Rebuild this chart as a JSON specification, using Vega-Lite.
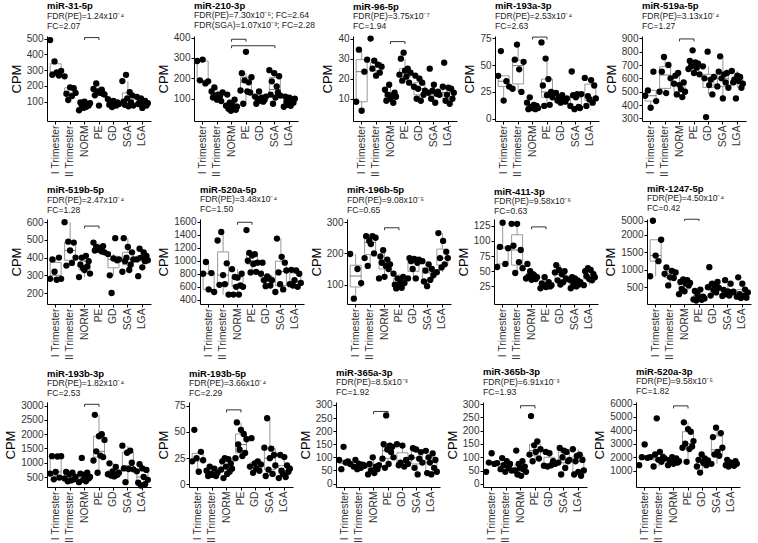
{
"$schema":"https://vega.github.io/schema/vega-lite/v6.json",
"background":"white",
"padding":{"top":0,"left":4,"right":2,"bottom":2},
"datasets":{
"pts":[
{"p":1,"g":"I Trimester","v":490},{"p":1,"g":"I Trimester","v":270},{"p":1,"g":"I Trimester","v":355},{"p":1,"g":"I Trimester","v":285},{"p":1,"g":"I Trimester","v":265},{"p":1,"g":"I Trimester","v":295},
{"p":1,"g":"II Trimester","v":260},{"p":1,"g":"II Trimester","v":150},{"p":1,"g":"II Trimester","v":110},{"p":1,"g":"II Trimester","v":190},{"p":1,"g":"II Trimester","v":135},{"p":1,"g":"II Trimester","v":185},{"p":1,"g":"II Trimester","v":155},
{"p":1,"g":"NORM","v":45},{"p":1,"g":"NORM","v":95},{"p":1,"g":"NORM","v":80},{"p":1,"g":"NORM","v":60},{"p":1,"g":"NORM","v":100},{"p":1,"g":"NORM","v":65},{"p":1,"g":"NORM","v":85},{"p":1,"g":"NORM","v":75},{"p":1,"g":"NORM","v":90},
{"p":1,"g":"PE","v":180},{"p":1,"g":"PE","v":140},{"p":1,"g":"PE","v":215},{"p":1,"g":"PE","v":165},{"p":1,"g":"PE","v":75},{"p":1,"g":"PE","v":155},{"p":1,"g":"PE","v":175},{"p":1,"g":"PE","v":150},{"p":1,"g":"PE","v":145},
{"p":1,"g":"GD","v":115},{"p":1,"g":"GD","v":80},{"p":1,"g":"GD","v":100},{"p":1,"g":"GD","v":65},{"p":1,"g":"GD","v":105},{"p":1,"g":"GD","v":90},{"p":1,"g":"GD","v":75},{"p":1,"g":"GD","v":95},{"p":1,"g":"GD","v":85},
{"p":1,"g":"SGA","v":230},{"p":1,"g":"SGA","v":100},{"p":1,"g":"SGA","v":80},{"p":1,"g":"SGA","v":270},{"p":1,"g":"SGA","v":120},{"p":1,"g":"SGA","v":70},{"p":1,"g":"SGA","v":160},{"p":1,"g":"SGA","v":95},{"p":1,"g":"SGA","v":140},{"p":1,"g":"SGA","v":75},
{"p":1,"g":"LGA","v":130},{"p":1,"g":"LGA","v":85},{"p":1,"g":"LGA","v":95},{"p":1,"g":"LGA","v":120},{"p":1,"g":"LGA","v":60},{"p":1,"g":"LGA","v":90},{"p":1,"g":"LGA","v":105},{"p":1,"g":"LGA","v":75},{"p":1,"g":"LGA","v":90},

{"p":2,"g":"I Trimester","v":285},{"p":2,"g":"I Trimester","v":190},{"p":2,"g":"I Trimester","v":292},{"p":2,"g":"I Trimester","v":175},{"p":2,"g":"I Trimester","v":185},
{"p":2,"g":"II Trimester","v":135},{"p":2,"g":"II Trimester","v":105},{"p":2,"g":"II Trimester","v":155},{"p":2,"g":"II Trimester","v":115},{"p":2,"g":"II Trimester","v":95},{"p":2,"g":"II Trimester","v":120},{"p":2,"g":"II Trimester","v":110},{"p":2,"g":"II Trimester","v":88},{"p":2,"g":"II Trimester","v":130},
{"p":2,"g":"NORM","v":65},{"p":2,"g":"NORM","v":120},{"p":2,"g":"NORM","v":50},{"p":2,"g":"NORM","v":80},{"p":2,"g":"NORM","v":40},{"p":2,"g":"NORM","v":70},{"p":2,"g":"NORM","v":55},{"p":2,"g":"NORM","v":95},{"p":2,"g":"NORM","v":45},{"p":2,"g":"NORM","v":60},
{"p":2,"g":"PE","v":140},{"p":2,"g":"PE","v":225},{"p":2,"g":"PE","v":75},{"p":2,"g":"PE","v":190},{"p":2,"g":"PE","v":330},{"p":2,"g":"PE","v":135},{"p":2,"g":"PE","v":180},{"p":2,"g":"PE","v":130},{"p":2,"g":"PE","v":205},
{"p":2,"g":"GD","v":110},{"p":2,"g":"GD","v":75},{"p":2,"g":"GD","v":100},{"p":2,"g":"GD","v":135},{"p":2,"g":"GD","v":90},{"p":2,"g":"GD","v":105},{"p":2,"g":"GD","v":85},{"p":2,"g":"GD","v":95},{"p":2,"g":"GD","v":110},
{"p":2,"g":"SGA","v":240},{"p":2,"g":"SGA","v":120},{"p":2,"g":"SGA","v":185},{"p":2,"g":"SGA","v":75},{"p":2,"g":"SGA","v":225},{"p":2,"g":"SGA","v":105},{"p":2,"g":"SGA","v":160},{"p":2,"g":"SGA","v":130},{"p":2,"g":"SGA","v":210},{"p":2,"g":"SGA","v":115},
{"p":2,"g":"LGA","v":60},{"p":2,"g":"LGA","v":110},{"p":2,"g":"LGA","v":85},{"p":2,"g":"LGA","v":70},{"p":2,"g":"LGA","v":105},{"p":2,"g":"LGA","v":65},{"p":2,"g":"LGA","v":95},{"p":2,"g":"LGA","v":80},{"p":2,"g":"LGA","v":100},

{"p":3,"g":"I Trimester","v":8.5},{"p":3,"g":"I Trimester","v":34.5},{"p":3,"g":"I Trimester","v":4},{"p":3,"g":"I Trimester","v":23.5},{"p":3,"g":"I Trimester","v":29.5},
{"p":3,"g":"II Trimester","v":40},{"p":3,"g":"II Trimester","v":25},{"p":3,"g":"II Trimester","v":29},{"p":3,"g":"II Trimester","v":21.5},{"p":3,"g":"II Trimester","v":27},{"p":3,"g":"II Trimester","v":23},{"p":3,"g":"II Trimester","v":26},
{"p":3,"g":"NORM","v":14.5},{"p":3,"g":"NORM","v":9},{"p":3,"g":"NORM","v":12},{"p":3,"g":"NORM","v":17},{"p":3,"g":"NORM","v":10},{"p":3,"g":"NORM","v":11.5},{"p":3,"g":"NORM","v":8},{"p":3,"g":"NORM","v":13},{"p":3,"g":"NORM","v":11},
{"p":3,"g":"PE","v":22},{"p":3,"g":"PE","v":30},{"p":3,"g":"PE","v":19},{"p":3,"g":"PE","v":33},{"p":3,"g":"PE","v":24},{"p":3,"g":"PE","v":21},{"p":3,"g":"PE","v":25},{"p":3,"g":"PE","v":18},{"p":3,"g":"PE","v":23},
{"p":3,"g":"GD","v":16},{"p":3,"g":"GD","v":21.5},{"p":3,"g":"GD","v":10},{"p":3,"g":"GD","v":15},{"p":3,"g":"GD","v":20},{"p":3,"g":"GD","v":9},{"p":3,"g":"GD","v":18},{"p":3,"g":"GD","v":12},{"p":3,"g":"GD","v":14},
{"p":3,"g":"SGA","v":13},{"p":3,"g":"SGA","v":25},{"p":3,"g":"SGA","v":10},{"p":3,"g":"SGA","v":14},{"p":3,"g":"SGA","v":17},{"p":3,"g":"SGA","v":8},{"p":3,"g":"SGA","v":12.5},{"p":3,"g":"SGA","v":13.5},{"p":3,"g":"SGA","v":12},
{"p":3,"g":"LGA","v":16},{"p":3,"g":"LGA","v":28},{"p":3,"g":"LGA","v":9},{"p":3,"g":"LGA","v":12},{"p":3,"g":"LGA","v":15.5},{"p":3,"g":"LGA","v":7.5},{"p":3,"g":"LGA","v":15},{"p":3,"g":"LGA","v":10},{"p":3,"g":"LGA","v":13},

{"p":4,"g":"I Trimester","v":40},{"p":4,"g":"I Trimester","v":63},{"p":4,"g":"I Trimester","v":17},{"p":4,"g":"I Trimester","v":35},{"p":4,"g":"I Trimester","v":30},
{"p":4,"g":"II Trimester","v":28},{"p":4,"g":"II Trimester","v":55},{"p":4,"g":"II Trimester","v":69},{"p":4,"g":"II Trimester","v":46},{"p":4,"g":"II Trimester","v":25},{"p":4,"g":"II Trimester","v":53},
{"p":4,"g":"NORM","v":15},{"p":4,"g":"NORM","v":9},{"p":4,"g":"NORM","v":20},{"p":4,"g":"NORM","v":11},{"p":4,"g":"NORM","v":10},{"p":4,"g":"NORM","v":13},{"p":4,"g":"NORM","v":9},{"p":4,"g":"NORM","v":12},{"p":4,"g":"NORM","v":10},
{"p":4,"g":"PE","v":71},{"p":4,"g":"PE","v":31},{"p":4,"g":"PE","v":12},{"p":4,"g":"PE","v":56},{"p":4,"g":"PE","v":22},{"p":4,"g":"PE","v":37},{"p":4,"g":"PE","v":13},{"p":4,"g":"PE","v":25},{"p":4,"g":"PE","v":20},
{"p":4,"g":"GD","v":24},{"p":4,"g":"GD","v":17},{"p":4,"g":"GD","v":20},{"p":4,"g":"GD","v":15},{"p":4,"g":"GD","v":22},{"p":4,"g":"GD","v":18},{"p":4,"g":"GD","v":16},{"p":4,"g":"GD","v":19},
{"p":4,"g":"SGA","v":12},{"p":4,"g":"SGA","v":44},{"p":4,"g":"SGA","v":22},{"p":4,"g":"SGA","v":9},{"p":4,"g":"SGA","v":20},{"p":4,"g":"SGA","v":23},{"p":4,"g":"SGA","v":11},{"p":4,"g":"SGA","v":10},{"p":4,"g":"SGA","v":23},
{"p":4,"g":"LGA","v":38},{"p":4,"g":"LGA","v":12},{"p":4,"g":"LGA","v":21},{"p":4,"g":"LGA","v":18},{"p":4,"g":"LGA","v":36},{"p":4,"g":"LGA","v":15},{"p":4,"g":"LGA","v":31},{"p":4,"g":"LGA","v":19},

{"p":5,"g":"I Trimester","v":470},{"p":5,"g":"I Trimester","v":510},{"p":5,"g":"I Trimester","v":380},{"p":5,"g":"I Trimester","v":650},{"p":5,"g":"I Trimester","v":430},
{"p":5,"g":"II Trimester","v":500},{"p":5,"g":"II Trimester","v":650},{"p":5,"g":"II Trimester","v":760},{"p":5,"g":"II Trimester","v":490},{"p":5,"g":"II Trimester","v":700},{"p":5,"g":"II Trimester","v":600},
{"p":5,"g":"NORM","v":560},{"p":5,"g":"NORM","v":620},{"p":5,"g":"NORM","v":480},{"p":5,"g":"NORM","v":640},{"p":5,"g":"NORM","v":550},{"p":5,"g":"NORM","v":520},{"p":5,"g":"NORM","v":460},{"p":5,"g":"NORM","v":570},{"p":5,"g":"NORM","v":500},
{"p":5,"g":"PE","v":670},{"p":5,"g":"PE","v":730},{"p":5,"g":"PE","v":690},{"p":5,"g":"PE","v":810},{"p":5,"g":"PE","v":640},{"p":5,"g":"PE","v":720},{"p":5,"g":"PE","v":680},{"p":5,"g":"PE","v":710},{"p":5,"g":"PE","v":630},
{"p":5,"g":"GD","v":690},{"p":5,"g":"GD","v":600},{"p":5,"g":"GD","v":310},{"p":5,"g":"GD","v":800},{"p":5,"g":"GD","v":550},{"p":5,"g":"GD","v":590},{"p":5,"g":"GD","v":480},{"p":5,"g":"GD","v":610},
{"p":5,"g":"SGA","v":540},{"p":5,"g":"SGA","v":650},{"p":5,"g":"SGA","v":765},{"p":5,"g":"SGA","v":600},{"p":5,"g":"SGA","v":450},{"p":5,"g":"SGA","v":630},{"p":5,"g":"SGA","v":570},{"p":5,"g":"SGA","v":640},{"p":5,"g":"SGA","v":530},
{"p":5,"g":"LGA","v":655},{"p":5,"g":"LGA","v":570},{"p":5,"g":"LGA","v":590},{"p":5,"g":"LGA","v":450},{"p":5,"g":"LGA","v":620},{"p":5,"g":"LGA","v":580},{"p":5,"g":"LGA","v":610},{"p":5,"g":"LGA","v":530},{"p":5,"g":"LGA","v":560},

{"p":6,"g":"I Trimester","v":280},{"p":6,"g":"I Trimester","v":390},{"p":6,"g":"I Trimester","v":320},{"p":6,"g":"I Trimester","v":275},{"p":6,"g":"I Trimester","v":400},{"p":6,"g":"I Trimester","v":280},
{"p":6,"g":"II Trimester","v":600},{"p":6,"g":"II Trimester","v":355},{"p":6,"g":"II Trimester","v":490},{"p":6,"g":"II Trimester","v":440},{"p":6,"g":"II Trimester","v":370},{"p":6,"g":"II Trimester","v":485},{"p":6,"g":"II Trimester","v":400},
{"p":6,"g":"NORM","v":290},{"p":6,"g":"NORM","v":360},{"p":6,"g":"NORM","v":400},{"p":6,"g":"NORM","v":340},{"p":6,"g":"NORM","v":330},{"p":6,"g":"NORM","v":410},{"p":6,"g":"NORM","v":350},{"p":6,"g":"NORM","v":380},{"p":6,"g":"NORM","v":310},
{"p":6,"g":"PE","v":485},{"p":6,"g":"PE","v":440},{"p":6,"g":"PE","v":460},{"p":6,"g":"PE","v":445},{"p":6,"g":"PE","v":455},{"p":6,"g":"PE","v":450},{"p":6,"g":"PE","v":435},{"p":6,"g":"PE","v":465},{"p":6,"g":"PE","v":430},
{"p":6,"g":"GD","v":420},{"p":6,"g":"GD","v":300},{"p":6,"g":"GD","v":200},{"p":6,"g":"GD","v":395},{"p":6,"g":"GD","v":510},{"p":6,"g":"GD","v":385},{"p":6,"g":"GD","v":390},
{"p":6,"g":"SGA","v":320},{"p":6,"g":"SGA","v":510},{"p":6,"g":"SGA","v":380},{"p":6,"g":"SGA","v":400},{"p":6,"g":"SGA","v":460},{"p":6,"g":"SGA","v":330},{"p":6,"g":"SGA","v":360},{"p":6,"g":"SGA","v":430},{"p":6,"g":"SGA","v":390},
{"p":6,"g":"LGA","v":390},{"p":6,"g":"LGA","v":295},{"p":6,"g":"LGA","v":450},{"p":6,"g":"LGA","v":400},{"p":6,"g":"LGA","v":345},{"p":6,"g":"LGA","v":430},{"p":6,"g":"LGA","v":380},{"p":6,"g":"LGA","v":410},{"p":6,"g":"LGA","v":385},

{"p":7,"g":"I Trimester","v":800},{"p":7,"g":"I Trimester","v":980},{"p":7,"g":"I Trimester","v":560},{"p":7,"g":"I Trimester","v":810},{"p":7,"g":"I Trimester","v":520},
{"p":7,"g":"II Trimester","v":1310},{"p":7,"g":"II Trimester","v":630},{"p":7,"g":"II Trimester","v":1440},{"p":7,"g":"II Trimester","v":780},{"p":7,"g":"II Trimester","v":640},{"p":7,"g":"II Trimester","v":960},{"p":7,"g":"II Trimester","v":480},
{"p":7,"g":"NORM","v":870},{"p":7,"g":"NORM","v":480},{"p":7,"g":"NORM","v":750},{"p":7,"g":"NORM","v":600},{"p":7,"g":"NORM","v":740},{"p":7,"g":"NORM","v":480},{"p":7,"g":"NORM","v":620},{"p":7,"g":"NORM","v":800},{"p":7,"g":"NORM","v":600},
{"p":7,"g":"PE","v":1470},{"p":7,"g":"PE","v":1000},{"p":7,"g":"PE","v":1120},{"p":7,"g":"PE","v":820},{"p":7,"g":"PE","v":1080},{"p":7,"g":"PE","v":950},{"p":7,"g":"PE","v":1100},{"p":7,"g":"PE","v":830},{"p":7,"g":"PE","v":970},
{"p":7,"g":"GD","v":800},{"p":7,"g":"GD","v":970},{"p":7,"g":"GD","v":700},{"p":7,"g":"GD","v":610},{"p":7,"g":"GD","v":760},{"p":7,"g":"GD","v":730},{"p":7,"g":"GD","v":620},{"p":7,"g":"GD","v":700},
{"p":7,"g":"SGA","v":520},{"p":7,"g":"SGA","v":1340},{"p":7,"g":"SGA","v":820},{"p":7,"g":"SGA","v":640},{"p":7,"g":"SGA","v":1060},{"p":7,"g":"SGA","v":560},{"p":7,"g":"SGA","v":970},{"p":7,"g":"SGA","v":850},
{"p":7,"g":"LGA","v":640},{"p":7,"g":"LGA","v":860},{"p":7,"g":"LGA","v":620},{"p":7,"g":"LGA","v":700},{"p":7,"g":"LGA","v":850},{"p":7,"g":"LGA","v":600},{"p":7,"g":"LGA","v":800},{"p":7,"g":"LGA","v":660},

{"p":8,"g":"I Trimester","v":198},{"p":8,"g":"I Trimester","v":55},{"p":8,"g":"I Trimester","v":150},{"p":8,"g":"I Trimester","v":105},
{"p":8,"g":"II Trimester","v":185},{"p":8,"g":"II Trimester","v":255},{"p":8,"g":"II Trimester","v":160},{"p":8,"g":"II Trimester","v":240},{"p":8,"g":"II Trimester","v":230},{"p":8,"g":"II Trimester","v":255},{"p":8,"g":"II Trimester","v":200},{"p":8,"g":"II Trimester","v":250},
{"p":8,"g":"NORM","v":120},{"p":8,"g":"NORM","v":190},{"p":8,"g":"NORM","v":170},{"p":8,"g":"NORM","v":210},{"p":8,"g":"NORM","v":125},{"p":8,"g":"NORM","v":160},{"p":8,"g":"NORM","v":180},{"p":8,"g":"NORM","v":150},{"p":8,"g":"NORM","v":165},
{"p":8,"g":"PE","v":135},{"p":8,"g":"PE","v":100},{"p":8,"g":"PE","v":88},{"p":8,"g":"PE","v":120},{"p":8,"g":"PE","v":95},{"p":8,"g":"PE","v":110},{"p":8,"g":"PE","v":90},{"p":8,"g":"PE","v":125},{"p":8,"g":"PE","v":105},
{"p":8,"g":"GD","v":120},{"p":8,"g":"GD","v":185},{"p":8,"g":"GD","v":175},{"p":8,"g":"GD","v":150},{"p":8,"g":"GD","v":182},{"p":8,"g":"GD","v":120},{"p":8,"g":"GD","v":170},{"p":8,"g":"GD","v":180},
{"p":8,"g":"SGA","v":175},{"p":8,"g":"SGA","v":110},{"p":8,"g":"SGA","v":145},{"p":8,"g":"SGA","v":95},{"p":8,"g":"SGA","v":165},{"p":8,"g":"SGA","v":115},{"p":8,"g":"SGA","v":150},{"p":8,"g":"SGA","v":130},
{"p":8,"g":"LGA","v":140},{"p":8,"g":"LGA","v":265},{"p":8,"g":"LGA","v":185},{"p":8,"g":"LGA","v":155},{"p":8,"g":"LGA","v":240},{"p":8,"g":"LGA","v":165},{"p":8,"g":"LGA","v":205},{"p":8,"g":"LGA","v":185},

{"p":9,"g":"I Trimester","v":57},{"p":9,"g":"I Trimester","v":90},{"p":9,"g":"I Trimester","v":130},{"p":9,"g":"I Trimester","v":62},{"p":9,"g":"I Trimester","v":88},
{"p":9,"g":"II Trimester","v":128},{"p":9,"g":"II Trimester","v":92},{"p":9,"g":"II Trimester","v":47},{"p":9,"g":"II Trimester","v":128},{"p":9,"g":"II Trimester","v":65},{"p":9,"g":"II Trimester","v":85},{"p":9,"g":"II Trimester","v":55},
{"p":9,"g":"NORM","v":38},{"p":9,"g":"NORM","v":62},{"p":9,"g":"NORM","v":42},{"p":9,"g":"NORM","v":50},{"p":9,"g":"NORM","v":36},{"p":9,"g":"NORM","v":45},{"p":9,"g":"NORM","v":43},{"p":9,"g":"NORM","v":37},{"p":9,"g":"NORM","v":40},
{"p":9,"g":"PE","v":22},{"p":9,"g":"PE","v":30},{"p":9,"g":"PE","v":26},{"p":9,"g":"PE","v":40},{"p":9,"g":"PE","v":24},{"p":9,"g":"PE","v":28},{"p":9,"g":"PE","v":32},{"p":9,"g":"PE","v":25},{"p":9,"g":"PE","v":27},
{"p":9,"g":"GD","v":48},{"p":9,"g":"GD","v":60},{"p":9,"g":"GD","v":35},{"p":9,"g":"GD","v":52},{"p":9,"g":"GD","v":28},{"p":9,"g":"GD","v":45},{"p":9,"g":"GD","v":32},{"p":9,"g":"GD","v":50},{"p":9,"g":"GD","v":38},
{"p":9,"g":"SGA","v":36},{"p":9,"g":"SGA","v":22},{"p":9,"g":"SGA","v":40},{"p":9,"g":"SGA","v":30},{"p":9,"g":"SGA","v":38},{"p":9,"g":"SGA","v":25},{"p":9,"g":"SGA","v":35},{"p":9,"g":"SGA","v":28},{"p":9,"g":"SGA","v":32},
{"p":9,"g":"LGA","v":27},{"p":9,"g":"LGA","v":50},{"p":9,"g":"LGA","v":42},{"p":9,"g":"LGA","v":55},{"p":9,"g":"LGA","v":37},{"p":9,"g":"LGA","v":52},{"p":9,"g":"LGA","v":35},{"p":9,"g":"LGA","v":45},{"p":9,"g":"LGA","v":40},

{"p":10,"g":"I Trimester","v":810},{"p":10,"g":"I Trimester","v":5000},{"p":10,"g":"I Trimester","v":1400},{"p":10,"g":"I Trimester","v":1240},{"p":10,"g":"I Trimester","v":1850},
{"p":10,"g":"II Trimester","v":880},{"p":10,"g":"II Trimester","v":1060},{"p":10,"g":"II Trimester","v":550},{"p":10,"g":"II Trimester","v":780},{"p":10,"g":"II Trimester","v":960},{"p":10,"g":"II Trimester","v":760},{"p":10,"g":"II Trimester","v":920},
{"p":10,"g":"NORM","v":300},{"p":10,"g":"NORM","v":650},{"p":10,"g":"NORM","v":450},{"p":10,"g":"NORM","v":720},{"p":10,"g":"NORM","v":380},{"p":10,"g":"NORM","v":600},{"p":10,"g":"NORM","v":700},{"p":10,"g":"NORM","v":550},{"p":10,"g":"NORM","v":620},
{"p":10,"g":"PE","v":150},{"p":10,"g":"PE","v":390},{"p":10,"g":"PE","v":120},{"p":10,"g":"PE","v":280},{"p":10,"g":"PE","v":200},{"p":10,"g":"PE","v":430},{"p":10,"g":"PE","v":140},{"p":10,"g":"PE","v":230},{"p":10,"g":"PE","v":180},
{"p":10,"g":"GD","v":500},{"p":10,"g":"GD","v":1070},{"p":10,"g":"GD","v":260},{"p":10,"g":"GD","v":600},{"p":10,"g":"GD","v":420},{"p":10,"g":"GD","v":550},{"p":10,"g":"GD","v":350},{"p":10,"g":"GD","v":650},{"p":10,"g":"GD","v":480},
{"p":10,"g":"SGA","v":250},{"p":10,"g":"SGA","v":420},{"p":10,"g":"SGA","v":700},{"p":10,"g":"SGA","v":300},{"p":10,"g":"SGA","v":380},{"p":10,"g":"SGA","v":260},{"p":10,"g":"SGA","v":600},{"p":10,"g":"SGA","v":350},{"p":10,"g":"SGA","v":370},
{"p":10,"g":"LGA","v":230},{"p":10,"g":"LGA","v":780},{"p":10,"g":"LGA","v":300},{"p":10,"g":"LGA","v":190},{"p":10,"g":"LGA","v":600},{"p":10,"g":"LGA","v":250},{"p":10,"g":"LGA","v":430},{"p":10,"g":"LGA","v":200},{"p":10,"g":"LGA","v":350},

{"p":11,"g":"I Trimester","v":620},{"p":11,"g":"I Trimester","v":1230},{"p":11,"g":"I Trimester","v":420},{"p":11,"g":"I Trimester","v":680},{"p":11,"g":"I Trimester","v":1220},{"p":11,"g":"I Trimester","v":480},{"p":11,"g":"I Trimester","v":1230},
{"p":11,"g":"II Trimester","v":450},{"p":11,"g":"II Trimester","v":680},{"p":11,"g":"II Trimester","v":350},{"p":11,"g":"II Trimester","v":600},{"p":11,"g":"II Trimester","v":380},{"p":11,"g":"II Trimester","v":650},{"p":11,"g":"II Trimester","v":420},{"p":11,"g":"II Trimester","v":500},
{"p":11,"g":"NORM","v":320},{"p":11,"g":"NORM","v":620},{"p":11,"g":"NORM","v":1170},{"p":11,"g":"NORM","v":400},{"p":11,"g":"NORM","v":580},{"p":11,"g":"NORM","v":350},{"p":11,"g":"NORM","v":650},{"p":11,"g":"NORM","v":450},{"p":11,"g":"NORM","v":500},
{"p":11,"g":"PE","v":1080},{"p":11,"g":"PE","v":2680},{"p":11,"g":"PE","v":1400},{"p":11,"g":"PE","v":650},{"p":11,"g":"PE","v":1930},{"p":11,"g":"PE","v":1250},{"p":11,"g":"PE","v":2000},{"p":11,"g":"PE","v":1200},{"p":11,"g":"PE","v":1800},
{"p":11,"g":"GD","v":600},{"p":11,"g":"GD","v":980},{"p":11,"g":"GD","v":550},{"p":11,"g":"GD","v":700},{"p":11,"g":"GD","v":520},{"p":11,"g":"GD","v":850},{"p":11,"g":"GD","v":580},{"p":11,"g":"GD","v":650},
{"p":11,"g":"SGA","v":1600},{"p":11,"g":"SGA","v":800},{"p":11,"g":"SGA","v":320},{"p":11,"g":"SGA","v":1350},{"p":11,"g":"SGA","v":780},{"p":11,"g":"SGA","v":1420},{"p":11,"g":"SGA","v":1000},{"p":11,"g":"SGA","v":770},
{"p":11,"g":"LGA","v":700},{"p":11,"g":"LGA","v":300},{"p":11,"g":"LGA","v":950},{"p":11,"g":"LGA","v":200},{"p":11,"g":"LGA","v":800},{"p":11,"g":"LGA","v":500},{"p":11,"g":"LGA","v":250},{"p":11,"g":"LGA","v":750},{"p":11,"g":"LGA","v":400},

{"p":12,"g":"I Trimester","v":22},{"p":12,"g":"I Trimester","v":52},{"p":12,"g":"I Trimester","v":25},{"p":12,"g":"I Trimester","v":12},{"p":12,"g":"I Trimester","v":31},{"p":12,"g":"I Trimester","v":23},
{"p":12,"g":"II Trimester","v":13},{"p":12,"g":"II Trimester","v":8},{"p":12,"g":"II Trimester","v":17},{"p":12,"g":"II Trimester","v":10},{"p":12,"g":"II Trimester","v":9},{"p":12,"g":"II Trimester","v":15},{"p":12,"g":"II Trimester","v":8},{"p":12,"g":"II Trimester","v":11},
{"p":12,"g":"NORM","v":14},{"p":12,"g":"NORM","v":22},{"p":12,"g":"NORM","v":6},{"p":12,"g":"NORM","v":25},{"p":12,"g":"NORM","v":17},{"p":12,"g":"NORM","v":10},{"p":12,"g":"NORM","v":24},{"p":12,"g":"NORM","v":12},{"p":12,"g":"NORM","v":20},{"p":12,"g":"NORM","v":15},
{"p":12,"g":"PE","v":25},{"p":12,"g":"PE","v":59},{"p":12,"g":"PE","v":38},{"p":12,"g":"PE","v":33},{"p":12,"g":"PE","v":52},{"p":12,"g":"PE","v":27},{"p":12,"g":"PE","v":48},{"p":12,"g":"PE","v":30},{"p":12,"g":"PE","v":43},
{"p":12,"g":"GD","v":17},{"p":12,"g":"GD","v":44},{"p":12,"g":"GD","v":11},{"p":12,"g":"GD","v":20},{"p":12,"g":"GD","v":15},{"p":12,"g":"GD","v":22},{"p":12,"g":"GD","v":13},{"p":12,"g":"GD","v":19},
{"p":12,"g":"SGA","v":35},{"p":12,"g":"SGA","v":8},{"p":12,"g":"SGA","v":63},{"p":12,"g":"SGA","v":14},{"p":12,"g":"SGA","v":25},{"p":12,"g":"SGA","v":34},{"p":12,"g":"SGA","v":10},{"p":12,"g":"SGA","v":28},{"p":12,"g":"SGA","v":18},
{"p":12,"g":"LGA","v":6},{"p":12,"g":"LGA","v":28},{"p":12,"g":"LGA","v":13},{"p":12,"g":"LGA","v":10},{"p":12,"g":"LGA","v":26},{"p":12,"g":"LGA","v":7},{"p":12,"g":"LGA","v":18},{"p":12,"g":"LGA","v":12},{"p":12,"g":"LGA","v":15},

{"p":13,"g":"I Trimester","v":90},{"p":13,"g":"I Trimester","v":55},{"p":13,"g":"I Trimester","v":140},{"p":13,"g":"I Trimester","v":80},{"p":13,"g":"I Trimester","v":85},{"p":13,"g":"I Trimester","v":75},
{"p":13,"g":"II Trimester","v":65},{"p":13,"g":"II Trimester","v":90},{"p":13,"g":"II Trimester","v":55},{"p":13,"g":"II Trimester","v":75},{"p":13,"g":"II Trimester","v":60},{"p":13,"g":"II Trimester","v":72},{"p":13,"g":"II Trimester","v":68},
{"p":13,"g":"NORM","v":35},{"p":13,"g":"NORM","v":75},{"p":13,"g":"NORM","v":50},{"p":13,"g":"NORM","v":100},{"p":13,"g":"NORM","v":40},{"p":13,"g":"NORM","v":65},{"p":13,"g":"NORM","v":55},{"p":13,"g":"NORM","v":70},
{"p":13,"g":"PE","v":95},{"p":13,"g":"PE","v":150},{"p":13,"g":"PE","v":60},{"p":13,"g":"PE","v":260},{"p":13,"g":"PE","v":130},{"p":13,"g":"PE","v":75},{"p":13,"g":"PE","v":145},{"p":13,"g":"PE","v":120},{"p":13,"g":"PE","v":140},{"p":13,"g":"PE","v":100},
{"p":13,"g":"GD","v":150},{"p":13,"g":"GD","v":70},{"p":13,"g":"GD","v":80},{"p":13,"g":"GD","v":145},{"p":13,"g":"GD","v":65},{"p":13,"g":"GD","v":90},{"p":13,"g":"GD","v":75},
{"p":13,"g":"SGA","v":100},{"p":13,"g":"SGA","v":135},{"p":13,"g":"SGA","v":60},{"p":13,"g":"SGA","v":130},{"p":13,"g":"SGA","v":35},{"p":13,"g":"SGA","v":95},{"p":13,"g":"SGA","v":120},{"p":13,"g":"SGA","v":80},
{"p":13,"g":"LGA","v":125},{"p":13,"g":"LGA","v":40},{"p":13,"g":"LGA","v":100},{"p":13,"g":"LGA","v":80},{"p":13,"g":"LGA","v":35},{"p":13,"g":"LGA","v":115},{"p":13,"g":"LGA","v":60},{"p":13,"g":"LGA","v":90},{"p":13,"g":"LGA","v":45},

{"p":14,"g":"I Trimester","v":45},{"p":14,"g":"I Trimester","v":80},{"p":14,"g":"I Trimester","v":115},{"p":14,"g":"I Trimester","v":75},{"p":14,"g":"I Trimester","v":78},
{"p":14,"g":"II Trimester","v":55},{"p":14,"g":"II Trimester","v":97},{"p":14,"g":"II Trimester","v":70},{"p":14,"g":"II Trimester","v":45},{"p":14,"g":"II Trimester","v":85},{"p":14,"g":"II Trimester","v":60},{"p":14,"g":"II Trimester","v":75},{"p":14,"g":"II Trimester","v":50},
{"p":14,"g":"NORM","v":50},{"p":14,"g":"NORM","v":125},{"p":14,"g":"NORM","v":35},{"p":14,"g":"NORM","v":75},{"p":14,"g":"NORM","v":60},{"p":14,"g":"NORM","v":30},{"p":14,"g":"NORM","v":85},{"p":14,"g":"NORM","v":55},{"p":14,"g":"NORM","v":65},{"p":14,"g":"NORM","v":45},
{"p":14,"g":"PE","v":110},{"p":14,"g":"PE","v":255},{"p":14,"g":"PE","v":85},{"p":14,"g":"PE","v":145},{"p":14,"g":"PE","v":120},{"p":14,"g":"PE","v":160},{"p":14,"g":"PE","v":95},{"p":14,"g":"PE","v":130},
{"p":14,"g":"GD","v":68},{"p":14,"g":"GD","v":120},{"p":14,"g":"GD","v":65},{"p":14,"g":"GD","v":115},{"p":14,"g":"GD","v":70},{"p":14,"g":"GD","v":85},{"p":14,"g":"GD","v":75},
{"p":14,"g":"SGA","v":80},{"p":14,"g":"SGA","v":135},{"p":14,"g":"SGA","v":35},{"p":14,"g":"SGA","v":100},{"p":14,"g":"SGA","v":125},{"p":14,"g":"SGA","v":60},{"p":14,"g":"SGA","v":120},{"p":14,"g":"SGA","v":85},{"p":14,"g":"SGA","v":90},
{"p":14,"g":"LGA","v":130},{"p":14,"g":"LGA","v":35},{"p":14,"g":"LGA","v":85},{"p":14,"g":"LGA","v":105},{"p":14,"g":"LGA","v":45},{"p":14,"g":"LGA","v":110},{"p":14,"g":"LGA","v":30},{"p":14,"g":"LGA","v":90},{"p":14,"g":"LGA","v":50},

{"p":15,"g":"I Trimester","v":1400},{"p":15,"g":"I Trimester","v":2000},{"p":15,"g":"I Trimester","v":2950},{"p":15,"g":"I Trimester","v":1950},{"p":15,"g":"I Trimester","v":2000},
{"p":15,"g":"II Trimester","v":1300},{"p":15,"g":"II Trimester","v":2200},{"p":15,"g":"II Trimester","v":4900},{"p":15,"g":"II Trimester","v":1800},{"p":15,"g":"II Trimester","v":2400},{"p":15,"g":"II Trimester","v":1650},{"p":15,"g":"II Trimester","v":2000},{"p":15,"g":"II Trimester","v":1900},
{"p":15,"g":"NORM","v":1400},{"p":15,"g":"NORM","v":1800},{"p":15,"g":"NORM","v":1650},{"p":15,"g":"NORM","v":2000},{"p":15,"g":"NORM","v":1500},{"p":15,"g":"NORM","v":1750},{"p":15,"g":"NORM","v":1900},{"p":15,"g":"NORM","v":1600},{"p":15,"g":"NORM","v":1700},
{"p":15,"g":"PE","v":2700},{"p":15,"g":"PE","v":4600},{"p":15,"g":"PE","v":3000},{"p":15,"g":"PE","v":1650},{"p":15,"g":"PE","v":4100},{"p":15,"g":"PE","v":2600},{"p":15,"g":"PE","v":3900},{"p":15,"g":"PE","v":2800},{"p":15,"g":"PE","v":3200},
{"p":15,"g":"GD","v":1300},{"p":15,"g":"GD","v":1800},{"p":15,"g":"GD","v":850},{"p":15,"g":"GD","v":2200},{"p":15,"g":"GD","v":1600},{"p":15,"g":"GD","v":1900},{"p":15,"g":"GD","v":1400},{"p":15,"g":"GD","v":1750},
{"p":15,"g":"SGA","v":1500},{"p":15,"g":"SGA","v":3500},{"p":15,"g":"SGA","v":2200},{"p":15,"g":"SGA","v":4200},{"p":15,"g":"SGA","v":2400},{"p":15,"g":"SGA","v":2100},{"p":15,"g":"SGA","v":3800},{"p":15,"g":"SGA","v":2700},
{"p":15,"g":"LGA","v":1400},{"p":15,"g":"LGA","v":1800},{"p":15,"g":"LGA","v":1300},{"p":15,"g":"LGA","v":1600},{"p":15,"g":"LGA","v":1450},{"p":15,"g":"LGA","v":1550},{"p":15,"g":"LGA","v":1350},{"p":15,"g":"LGA","v":1700},{"p":15,"g":"LGA","v":1500}
],
"br":[
{"p":1,"a":"NORM","b":"PE","y":506,"y0":490},
{"p":2,"a":"NORM","b":"PE","y":392,"y0":380},
{"p":2,"a":"NORM","b":"SGA","y":360,"y0":348},
{"p":3,"a":"NORM","b":"PE","y":38.5,"y0":37.3},
{"p":4,"a":"NORM","b":"PE","y":76,"y0":73.7},
{"p":5,"a":"NORM","b":"PE","y":895,"y0":876},
{"p":6,"a":"NORM","b":"PE","y":578,"y0":564},
{"p":7,"a":"NORM","b":"PE","y":1590,"y0":1552},
{"p":8,"a":"NORM","b":"PE","y":282,"y0":274},
{"p":9,"a":"NORM","b":"PE","y":123,"y0":119},
{"p":10,"a":"NORM","b":"PE","y":5170,"y0":4960},
{"p":11,"a":"NORM","b":"PE","y":3050,"y0":2960},
{"p":12,"a":"NORM","b":"PE","y":71,"y0":68.5},
{"p":13,"a":"NORM","b":"PE","y":275,"y0":265},
{"p":14,"a":"NORM","b":"PE","y":294,"y0":284},
{"p":15,"a":"NORM","b":"PE","y":5830,"y0":5640}
]
},
"data":{"name":"pts"},
"vconcat":[
{"hconcat":[
{"title":{"text":"miR-31-5p","subtitle":["FDR(PE)=1.24x10⁻⁴","FC=2.07"]},"width":104,"height":85,"layer":[
{"transform":[{"filter":"datum.p==1"}],"mark":{"type":"boxplot","extent":1.5,"size":11,"outliers":false,"color":"white","box":{"stroke":"#999999","strokeWidth":1},"median":{"color":"#444444"},"rule":{"color":"#999999"}},"encoding":{"x":{"field":"g","type":"nominal","scale":{"domain":["I Trimester","II Trimester","NORM","PE","GD","SGA","LGA"],"paddingInner":0,"paddingOuter":0.1},"axis":{"title":null}},"y":{"field":"v","type":"quantitative","title":"CPM","scale":{"domain":[-23,516],"nice":false,"zero":false},"axis":{"values":[100,200,300,400,500],"tickCount":20,"format":"d","labelOverlap":false}}}},
{"transform":[{"filter":"datum.p==1"},{"window":[{"op":"row_number","as":"i"}],"groupby":["g"]},{"window":[{"op":"percent_rank","as":"r"}],"sort":[{"field":"i"}],"groupby":["g"]}],"mark":{"type":"point","filled":true,"color":"black","size":40,"opacity":1},"encoding":{"x":{"field":"g","type":"nominal"},"xOffset":{"field":"r","type":"quantitative","scale":{"domain":[0,1],"range":[1.7,12.7]}},"y":{"field":"v","type":"quantitative"}}},
{"data":{"name":"br"},"transform":[{"filter":"datum.p==1"}],"mark":{"type":"rule","color":"#333333"},"encoding":{"x":{"field":"a","type":"nominal"},"x2":{"field":"b"},"y":{"field":"y","type":"quantitative"}}},
{"data":{"name":"br"},"transform":[{"filter":"datum.p==1"}],"mark":{"type":"rule","color":"#333333"},"encoding":{"x":{"field":"a","type":"nominal"},"y":{"field":"y","type":"quantitative"},"y2":{"field":"y0"}}},
{"data":{"name":"br"},"transform":[{"filter":"datum.p==1"}],"mark":{"type":"rule","color":"#333333"},"encoding":{"x":{"field":"b","type":"nominal"},"y":{"field":"y","type":"quantitative"},"y2":{"field":"y0"}}}
]},
{"title":{"text":"miR-210-3p","subtitle":["FDR(PE)=7.30x10⁻⁵; FC=2.64","FDR(SGA)=1.07x10⁻³; FC=2.28"]},"width":104,"height":85,"layer":[
{"transform":[{"filter":"datum.p==2"}],"mark":{"type":"boxplot","extent":1.5,"size":11,"outliers":false,"color":"white","box":{"stroke":"#999999","strokeWidth":1},"median":{"color":"#444444"},"rule":{"color":"#999999"}},"encoding":{"x":{"field":"g","type":"nominal","scale":{"domain":["I Trimester","II Trimester","NORM","PE","GD","SGA","LGA"],"paddingInner":0,"paddingOuter":0.1},"axis":{"title":null}},"y":{"field":"v","type":"quantitative","title":"CPM","scale":{"domain":[-10,408],"nice":false,"zero":false},"axis":{"values":[100,200,300,400],"tickCount":20,"format":"d","labelOverlap":false}}}},
{"transform":[{"filter":"datum.p==2"},{"window":[{"op":"row_number","as":"i"}],"groupby":["g"]},{"window":[{"op":"percent_rank","as":"r"}],"sort":[{"field":"i"}],"groupby":["g"]}],"mark":{"type":"point","filled":true,"color":"black","size":40,"opacity":1},"encoding":{"x":{"field":"g","type":"nominal"},"xOffset":{"field":"r","type":"quantitative","scale":{"domain":[0,1],"range":[1.7,12.7]}},"y":{"field":"v","type":"quantitative"}}},
{"data":{"name":"br"},"transform":[{"filter":"datum.p==2"}],"mark":{"type":"rule","color":"#333333"},"encoding":{"x":{"field":"a","type":"nominal"},"x2":{"field":"b"},"y":{"field":"y","type":"quantitative"}}},
{"data":{"name":"br"},"transform":[{"filter":"datum.p==2"}],"mark":{"type":"rule","color":"#333333"},"encoding":{"x":{"field":"a","type":"nominal"},"y":{"field":"y","type":"quantitative"},"y2":{"field":"y0"}}},
{"data":{"name":"br"},"transform":[{"filter":"datum.p==2"}],"mark":{"type":"rule","color":"#333333"},"encoding":{"x":{"field":"b","type":"nominal"},"y":{"field":"y","type":"quantitative"},"y2":{"field":"y0"}}}
]},
{"title":{"text":"miR-96-5p","subtitle":["FDR(PE)=3.75x10⁻⁷","FC=1.94"]},"width":104,"height":85,"layer":[
{"transform":[{"filter":"datum.p==3"}],"mark":{"type":"boxplot","extent":1.5,"size":11,"outliers":false,"color":"white","box":{"stroke":"#999999","strokeWidth":1},"median":{"color":"#444444"},"rule":{"color":"#999999"}},"encoding":{"x":{"field":"g","type":"nominal","scale":{"domain":["I Trimester","II Trimester","NORM","PE","GD","SGA","LGA"],"paddingInner":0,"paddingOuter":0.1},"axis":{"title":null}},"y":{"field":"v","type":"quantitative","title":"CPM","scale":{"domain":[-1.1,41.3],"nice":false,"zero":false},"axis":{"values":[10,20,30,40],"tickCount":20,"format":"d","labelOverlap":false}}}},
{"transform":[{"filter":"datum.p==3"},{"window":[{"op":"row_number","as":"i"}],"groupby":["g"]},{"window":[{"op":"percent_rank","as":"r"}],"sort":[{"field":"i"}],"groupby":["g"]}],"mark":{"type":"point","filled":true,"color":"black","size":40,"opacity":1},"encoding":{"x":{"field":"g","type":"nominal"},"xOffset":{"field":"r","type":"quantitative","scale":{"domain":[0,1],"range":[1.7,12.7]}},"y":{"field":"v","type":"quantitative"}}},
{"data":{"name":"br"},"transform":[{"filter":"datum.p==3"}],"mark":{"type":"rule","color":"#333333"},"encoding":{"x":{"field":"a","type":"nominal"},"x2":{"field":"b"},"y":{"field":"y","type":"quantitative"}}},
{"data":{"name":"br"},"transform":[{"filter":"datum.p==3"}],"mark":{"type":"rule","color":"#333333"},"encoding":{"x":{"field":"a","type":"nominal"},"y":{"field":"y","type":"quantitative"},"y2":{"field":"y0"}}},
{"data":{"name":"br"},"transform":[{"filter":"datum.p==3"}],"mark":{"type":"rule","color":"#333333"},"encoding":{"x":{"field":"b","type":"nominal"},"y":{"field":"y","type":"quantitative"},"y2":{"field":"y0"}}}
]},
{"title":{"text":"miR-193a-3p","subtitle":["FDR(PE)=2.53x10⁻⁴","FC=2.63"]},"width":104,"height":85,"layer":[
{"transform":[{"filter":"datum.p==4"}],"mark":{"type":"boxplot","extent":1.5,"size":11,"outliers":false,"color":"white","box":{"stroke":"#999999","strokeWidth":1},"median":{"color":"#444444"},"rule":{"color":"#999999"}},"encoding":{"x":{"field":"g","type":"nominal","scale":{"domain":["I Trimester","II Trimester","NORM","PE","GD","SGA","LGA"],"paddingInner":0,"paddingOuter":0.1},"axis":{"title":null}},"y":{"field":"v","type":"quantitative","title":"CPM","scale":{"domain":[-2,77],"nice":false,"zero":false},"axis":{"values":[0,25,50,75],"tickCount":20,"format":"d","labelOverlap":false}}}},
{"transform":[{"filter":"datum.p==4"},{"window":[{"op":"row_number","as":"i"}],"groupby":["g"]},{"window":[{"op":"percent_rank","as":"r"}],"sort":[{"field":"i"}],"groupby":["g"]}],"mark":{"type":"point","filled":true,"color":"black","size":40,"opacity":1},"encoding":{"x":{"field":"g","type":"nominal"},"xOffset":{"field":"r","type":"quantitative","scale":{"domain":[0,1],"range":[1.7,12.7]}},"y":{"field":"v","type":"quantitative"}}},
{"data":{"name":"br"},"transform":[{"filter":"datum.p==4"}],"mark":{"type":"rule","color":"#333333"},"encoding":{"x":{"field":"a","type":"nominal"},"x2":{"field":"b"},"y":{"field":"y","type":"quantitative"}}},
{"data":{"name":"br"},"transform":[{"filter":"datum.p==4"}],"mark":{"type":"rule","color":"#333333"},"encoding":{"x":{"field":"a","type":"nominal"},"y":{"field":"y","type":"quantitative"},"y2":{"field":"y0"}}},
{"data":{"name":"br"},"transform":[{"filter":"datum.p==4"}],"mark":{"type":"rule","color":"#333333"},"encoding":{"x":{"field":"b","type":"nominal"},"y":{"field":"y","type":"quantitative"},"y2":{"field":"y0"}}}
]},
{"title":{"text":"miR-519a-5p","subtitle":["FDR(PE)=3.13x10⁻⁴","FC=1.27"]},"width":104,"height":85,"layer":[
{"transform":[{"filter":"datum.p==5"}],"mark":{"type":"boxplot","extent":1.5,"size":11,"outliers":false,"color":"white","box":{"stroke":"#999999","strokeWidth":1},"median":{"color":"#444444"},"rule":{"color":"#999999"}},"encoding":{"x":{"field":"g","type":"nominal","scale":{"domain":["I Trimester","II Trimester","NORM","PE","GD","SGA","LGA"],"paddingInner":0,"paddingOuter":0.1},"axis":{"title":null}},"y":{"field":"v","type":"quantitative","title":"CPM","scale":{"domain":[281,917],"nice":false,"zero":false},"axis":{"values":[300,400,500,600,700,800,900],"tickCount":20,"format":"d","labelOverlap":false}}}},
{"transform":[{"filter":"datum.p==5"},{"window":[{"op":"row_number","as":"i"}],"groupby":["g"]},{"window":[{"op":"percent_rank","as":"r"}],"sort":[{"field":"i"}],"groupby":["g"]}],"mark":{"type":"point","filled":true,"color":"black","size":40,"opacity":1},"encoding":{"x":{"field":"g","type":"nominal"},"xOffset":{"field":"r","type":"quantitative","scale":{"domain":[0,1],"range":[1.7,12.7]}},"y":{"field":"v","type":"quantitative"}}},
{"data":{"name":"br"},"transform":[{"filter":"datum.p==5"}],"mark":{"type":"rule","color":"#333333"},"encoding":{"x":{"field":"a","type":"nominal"},"x2":{"field":"b"},"y":{"field":"y","type":"quantitative"}}},
{"data":{"name":"br"},"transform":[{"filter":"datum.p==5"}],"mark":{"type":"rule","color":"#333333"},"encoding":{"x":{"field":"a","type":"nominal"},"y":{"field":"y","type":"quantitative"},"y2":{"field":"y0"}}},
{"data":{"name":"br"},"transform":[{"filter":"datum.p==5"}],"mark":{"type":"rule","color":"#333333"},"encoding":{"x":{"field":"b","type":"nominal"},"y":{"field":"y","type":"quantitative"},"y2":{"field":"y0"}}}
]}
]},
{"hconcat":[
{"title":{"text":"miR-519b-5p","subtitle":["FDR(PE)=2.47x10⁻⁴","FC=1.28"]},"width":104,"height":85,"layer":[
{"transform":[{"filter":"datum.p==6"}],"mark":{"type":"boxplot","extent":1.5,"size":11,"outliers":false,"color":"white","box":{"stroke":"#999999","strokeWidth":1},"median":{"color":"#444444"},"rule":{"color":"#999999"}},"encoding":{"x":{"field":"g","type":"nominal","scale":{"domain":["I Trimester","II Trimester","NORM","PE","GD","SGA","LGA"],"paddingInner":0,"paddingOuter":0.1},"axis":{"title":null}},"y":{"field":"v","type":"quantitative","title":"CPM","scale":{"domain":[138,618],"nice":false,"zero":false},"axis":{"values":[200,300,400,500,600],"tickCount":20,"format":"d","labelOverlap":false}}}},
{"transform":[{"filter":"datum.p==6"},{"window":[{"op":"row_number","as":"i"}],"groupby":["g"]},{"window":[{"op":"percent_rank","as":"r"}],"sort":[{"field":"i"}],"groupby":["g"]}],"mark":{"type":"point","filled":true,"color":"black","size":40,"opacity":1},"encoding":{"x":{"field":"g","type":"nominal"},"xOffset":{"field":"r","type":"quantitative","scale":{"domain":[0,1],"range":[1.7,12.7]}},"y":{"field":"v","type":"quantitative"}}},
{"data":{"name":"br"},"transform":[{"filter":"datum.p==6"}],"mark":{"type":"rule","color":"#333333"},"encoding":{"x":{"field":"a","type":"nominal"},"x2":{"field":"b"},"y":{"field":"y","type":"quantitative"}}},
{"data":{"name":"br"},"transform":[{"filter":"datum.p==6"}],"mark":{"type":"rule","color":"#333333"},"encoding":{"x":{"field":"a","type":"nominal"},"y":{"field":"y","type":"quantitative"},"y2":{"field":"y0"}}},
{"data":{"name":"br"},"transform":[{"filter":"datum.p==6"}],"mark":{"type":"rule","color":"#333333"},"encoding":{"x":{"field":"b","type":"nominal"},"y":{"field":"y","type":"quantitative"},"y2":{"field":"y0"}}}
]},
{"title":{"text":"miR-520a-5p","subtitle":["FDR(PE)=3.48x10⁻⁴","FC=1.50"]},"width":104,"height":85,"layer":[
{"transform":[{"filter":"datum.p==7"}],"mark":{"type":"boxplot","extent":1.5,"size":11,"outliers":false,"color":"white","box":{"stroke":"#999999","strokeWidth":1},"median":{"color":"#444444"},"rule":{"color":"#999999"}},"encoding":{"x":{"field":"g","type":"nominal","scale":{"domain":["I Trimester","II Trimester","NORM","PE","GD","SGA","LGA"],"paddingInner":0,"paddingOuter":0.1},"axis":{"title":null}},"y":{"field":"v","type":"quantitative","title":"CPM","scale":{"domain":[336,1640],"nice":false,"zero":false},"axis":{"values":[400,600,800,1000,1200,1400,1600],"tickCount":20,"format":"d","labelOverlap":false}}}},
{"transform":[{"filter":"datum.p==7"},{"window":[{"op":"row_number","as":"i"}],"groupby":["g"]},{"window":[{"op":"percent_rank","as":"r"}],"sort":[{"field":"i"}],"groupby":["g"]}],"mark":{"type":"point","filled":true,"color":"black","size":40,"opacity":1},"encoding":{"x":{"field":"g","type":"nominal"},"xOffset":{"field":"r","type":"quantitative","scale":{"domain":[0,1],"range":[1.7,12.7]}},"y":{"field":"v","type":"quantitative"}}},
{"data":{"name":"br"},"transform":[{"filter":"datum.p==7"}],"mark":{"type":"rule","color":"#333333"},"encoding":{"x":{"field":"a","type":"nominal"},"x2":{"field":"b"},"y":{"field":"y","type":"quantitative"}}},
{"data":{"name":"br"},"transform":[{"filter":"datum.p==7"}],"mark":{"type":"rule","color":"#333333"},"encoding":{"x":{"field":"a","type":"nominal"},"y":{"field":"y","type":"quantitative"},"y2":{"field":"y0"}}},
{"data":{"name":"br"},"transform":[{"filter":"datum.p==7"}],"mark":{"type":"rule","color":"#333333"},"encoding":{"x":{"field":"b","type":"nominal"},"y":{"field":"y","type":"quantitative"},"y2":{"field":"y0"}}}
]},
{"title":{"text":"miR-196b-5p","subtitle":["FDR(PE)=9.08x10⁻⁵","FC=0.65"]},"width":104,"height":85,"layer":[
{"transform":[{"filter":"datum.p==8"}],"mark":{"type":"boxplot","extent":1.5,"size":11,"outliers":false,"color":"white","box":{"stroke":"#999999","strokeWidth":1},"median":{"color":"#444444"},"rule":{"color":"#999999"}},"encoding":{"x":{"field":"g","type":"nominal","scale":{"domain":["I Trimester","II Trimester","NORM","PE","GD","SGA","LGA"],"paddingInner":0,"paddingOuter":0.1},"axis":{"title":null}},"y":{"field":"v","type":"quantitative","title":"CPM","scale":{"domain":[38,310],"nice":false,"zero":false},"axis":{"values":[100,200,300],"tickCount":20,"format":"d","labelOverlap":false}}}},
{"transform":[{"filter":"datum.p==8"},{"window":[{"op":"row_number","as":"i"}],"groupby":["g"]},{"window":[{"op":"percent_rank","as":"r"}],"sort":[{"field":"i"}],"groupby":["g"]}],"mark":{"type":"point","filled":true,"color":"black","size":40,"opacity":1},"encoding":{"x":{"field":"g","type":"nominal"},"xOffset":{"field":"r","type":"quantitative","scale":{"domain":[0,1],"range":[1.7,12.7]}},"y":{"field":"v","type":"quantitative"}}},
{"data":{"name":"br"},"transform":[{"filter":"datum.p==8"}],"mark":{"type":"rule","color":"#333333"},"encoding":{"x":{"field":"a","type":"nominal"},"x2":{"field":"b"},"y":{"field":"y","type":"quantitative"}}},
{"data":{"name":"br"},"transform":[{"filter":"datum.p==8"}],"mark":{"type":"rule","color":"#333333"},"encoding":{"x":{"field":"a","type":"nominal"},"y":{"field":"y","type":"quantitative"},"y2":{"field":"y0"}}},
{"data":{"name":"br"},"transform":[{"filter":"datum.p==8"}],"mark":{"type":"rule","color":"#333333"},"encoding":{"x":{"field":"b","type":"nominal"},"y":{"field":"y","type":"quantitative"},"y2":{"field":"y0"}}}
]},
{"title":{"text":"miR-411-3p","subtitle":["FDR(PE)=9.58x10⁻⁶","FC=0.63"]},"width":104,"height":85,"layer":[
{"transform":[{"filter":"datum.p==9"}],"mark":{"type":"boxplot","extent":1.5,"size":11,"outliers":false,"color":"white","box":{"stroke":"#999999","strokeWidth":1},"median":{"color":"#444444"},"rule":{"color":"#999999"}},"encoding":{"x":{"field":"g","type":"nominal","scale":{"domain":["I Trimester","II Trimester","NORM","PE","GD","SGA","LGA"],"paddingInner":0,"paddingOuter":0.1},"axis":{"title":null}},"y":{"field":"v","type":"quantitative","title":"CPM","scale":{"domain":[-4,136],"nice":false,"zero":false},"axis":{"values":[25,50,75,100,125],"tickCount":20,"format":"d","labelOverlap":false}}}},
{"transform":[{"filter":"datum.p==9"},{"window":[{"op":"row_number","as":"i"}],"groupby":["g"]},{"window":[{"op":"percent_rank","as":"r"}],"sort":[{"field":"i"}],"groupby":["g"]}],"mark":{"type":"point","filled":true,"color":"black","size":40,"opacity":1},"encoding":{"x":{"field":"g","type":"nominal"},"xOffset":{"field":"r","type":"quantitative","scale":{"domain":[0,1],"range":[1.7,12.7]}},"y":{"field":"v","type":"quantitative"}}},
{"data":{"name":"br"},"transform":[{"filter":"datum.p==9"}],"mark":{"type":"rule","color":"#333333"},"encoding":{"x":{"field":"a","type":"nominal"},"x2":{"field":"b"},"y":{"field":"y","type":"quantitative"}}},
{"data":{"name":"br"},"transform":[{"filter":"datum.p==9"}],"mark":{"type":"rule","color":"#333333"},"encoding":{"x":{"field":"a","type":"nominal"},"y":{"field":"y","type":"quantitative"},"y2":{"field":"y0"}}},
{"data":{"name":"br"},"transform":[{"filter":"datum.p==9"}],"mark":{"type":"rule","color":"#333333"},"encoding":{"x":{"field":"b","type":"nominal"},"y":{"field":"y","type":"quantitative"},"y2":{"field":"y0"}}}
]},
{"title":{"text":"miR-1247-5p","subtitle":["FDR(PE)=4.50x10⁻⁴","FC=0.42"]},"width":104,"height":85,"layer":[
{"transform":[{"filter":"datum.p==10"}],"mark":{"type":"boxplot","extent":1.5,"size":11,"outliers":false,"color":"white","box":{"stroke":"#999999","strokeWidth":1},"median":{"color":"#444444"},"rule":{"color":"#999999"}},"encoding":{"x":{"field":"g","type":"nominal","scale":{"domain":["I Trimester","II Trimester","NORM","PE","GD","SGA","LGA"],"paddingInner":0,"paddingOuter":0.1},"axis":{"title":null}},"y":{"field":"v","type":"quantitative","title":"CPM","scale":{"domain":[20,2100,4850,5200],"range":[85,12,3,0],"nice":false,"zero":false},"axis":{"values":[500,1000,1500,2000,5000],"tickCount":20,"format":"d","labelOverlap":false}}}},
{"transform":[{"filter":"datum.p==10"},{"window":[{"op":"row_number","as":"i"}],"groupby":["g"]},{"window":[{"op":"percent_rank","as":"r"}],"sort":[{"field":"i"}],"groupby":["g"]}],"mark":{"type":"point","filled":true,"color":"black","size":40,"opacity":1},"encoding":{"x":{"field":"g","type":"nominal"},"xOffset":{"field":"r","type":"quantitative","scale":{"domain":[0,1],"range":[1.7,12.7]}},"y":{"field":"v","type":"quantitative"}}},
{"data":{"name":"br"},"transform":[{"filter":"datum.p==10"}],"mark":{"type":"rule","color":"#333333"},"encoding":{"x":{"field":"a","type":"nominal"},"x2":{"field":"b"},"y":{"field":"y","type":"quantitative"}}},
{"data":{"name":"br"},"transform":[{"filter":"datum.p==10"}],"mark":{"type":"rule","color":"#333333"},"encoding":{"x":{"field":"a","type":"nominal"},"y":{"field":"y","type":"quantitative"},"y2":{"field":"y0"}}},
{"data":{"name":"br"},"transform":[{"filter":"datum.p==10"}],"mark":{"type":"rule","color":"#333333"},"encoding":{"x":{"field":"b","type":"nominal"},"y":{"field":"y","type":"quantitative"},"y2":{"field":"y0"}}}
]}
]},
{"hconcat":[
{"title":{"text":"miR-193b-3p","subtitle":["FDR(PE)=1.82x10⁻⁴","FC=2.53"]},"width":104,"height":85,"layer":[
{"transform":[{"filter":"datum.p==11"}],"mark":{"type":"boxplot","extent":1.5,"size":11,"outliers":false,"color":"white","box":{"stroke":"#999999","strokeWidth":1},"median":{"color":"#444444"},"rule":{"color":"#999999"}},"encoding":{"x":{"field":"g","type":"nominal","scale":{"domain":["I Trimester","II Trimester","NORM","PE","GD","SGA","LGA"],"paddingInner":0,"paddingOuter":0.1},"axis":{"title":null}},"y":{"field":"v","type":"quantitative","title":"CPM","scale":{"domain":[150,3130],"nice":false,"zero":false},"axis":{"values":[500,1000,1500,2000,2500,3000],"tickCount":20,"format":"d","labelOverlap":false}}}},
{"transform":[{"filter":"datum.p==11"},{"window":[{"op":"row_number","as":"i"}],"groupby":["g"]},{"window":[{"op":"percent_rank","as":"r"}],"sort":[{"field":"i"}],"groupby":["g"]}],"mark":{"type":"point","filled":true,"color":"black","size":40,"opacity":1},"encoding":{"x":{"field":"g","type":"nominal"},"xOffset":{"field":"r","type":"quantitative","scale":{"domain":[0,1],"range":[1.7,12.7]}},"y":{"field":"v","type":"quantitative"}}},
{"data":{"name":"br"},"transform":[{"filter":"datum.p==11"}],"mark":{"type":"rule","color":"#333333"},"encoding":{"x":{"field":"a","type":"nominal"},"x2":{"field":"b"},"y":{"field":"y","type":"quantitative"}}},
{"data":{"name":"br"},"transform":[{"filter":"datum.p==11"}],"mark":{"type":"rule","color":"#333333"},"encoding":{"x":{"field":"a","type":"nominal"},"y":{"field":"y","type":"quantitative"},"y2":{"field":"y0"}}},
{"data":{"name":"br"},"transform":[{"filter":"datum.p==11"}],"mark":{"type":"rule","color":"#333333"},"encoding":{"x":{"field":"b","type":"nominal"},"y":{"field":"y","type":"quantitative"},"y2":{"field":"y0"}}}
]},
{"title":{"text":"miR-193b-5p","subtitle":["FDR(PE)=3.66x10⁻⁴","FC=2.29"]},"width":104,"height":85,"layer":[
{"transform":[{"filter":"datum.p==12"}],"mark":{"type":"boxplot","extent":1.5,"size":11,"outliers":false,"color":"white","box":{"stroke":"#999999","strokeWidth":1},"median":{"color":"#444444"},"rule":{"color":"#999999"}},"encoding":{"x":{"field":"g","type":"nominal","scale":{"domain":["I Trimester","II Trimester","NORM","PE","GD","SGA","LGA"],"paddingInner":0,"paddingOuter":0.1},"axis":{"title":null}},"y":{"field":"v","type":"quantitative","title":"CPM","scale":{"domain":[-2.5,78.5],"nice":false,"zero":false},"axis":{"values":[0,25,50,75],"tickCount":20,"format":"d","labelOverlap":false}}}},
{"transform":[{"filter":"datum.p==12"},{"window":[{"op":"row_number","as":"i"}],"groupby":["g"]},{"window":[{"op":"percent_rank","as":"r"}],"sort":[{"field":"i"}],"groupby":["g"]}],"mark":{"type":"point","filled":true,"color":"black","size":40,"opacity":1},"encoding":{"x":{"field":"g","type":"nominal"},"xOffset":{"field":"r","type":"quantitative","scale":{"domain":[0,1],"range":[1.7,12.7]}},"y":{"field":"v","type":"quantitative"}}},
{"data":{"name":"br"},"transform":[{"filter":"datum.p==12"}],"mark":{"type":"rule","color":"#333333"},"encoding":{"x":{"field":"a","type":"nominal"},"x2":{"field":"b"},"y":{"field":"y","type":"quantitative"}}},
{"data":{"name":"br"},"transform":[{"filter":"datum.p==12"}],"mark":{"type":"rule","color":"#333333"},"encoding":{"x":{"field":"a","type":"nominal"},"y":{"field":"y","type":"quantitative"},"y2":{"field":"y0"}}},
{"data":{"name":"br"},"transform":[{"filter":"datum.p==12"}],"mark":{"type":"rule","color":"#333333"},"encoding":{"x":{"field":"b","type":"nominal"},"y":{"field":"y","type":"quantitative"},"y2":{"field":"y0"}}}
]},
{"title":{"text":"miR-365a-3p","subtitle":["FDR(PE)=8.5x10⁻³","FC=1.92"]},"width":104,"height":85,"layer":[
{"transform":[{"filter":"datum.p==13"}],"mark":{"type":"boxplot","extent":1.5,"size":11,"outliers":false,"color":"white","box":{"stroke":"#999999","strokeWidth":1},"median":{"color":"#444444"},"rule":{"color":"#999999"}},"encoding":{"x":{"field":"g","type":"nominal","scale":{"domain":["I Trimester","II Trimester","NORM","PE","GD","SGA","LGA"],"paddingInner":0,"paddingOuter":0.1},"axis":{"title":null}},"y":{"field":"v","type":"quantitative","title":"CPM","scale":{"domain":[-13,311],"nice":false,"zero":false},"axis":{"values":[0,50,100,150,200,250,300],"tickCount":20,"format":"d","labelOverlap":false}}}},
{"transform":[{"filter":"datum.p==13"},{"window":[{"op":"row_number","as":"i"}],"groupby":["g"]},{"window":[{"op":"percent_rank","as":"r"}],"sort":[{"field":"i"}],"groupby":["g"]}],"mark":{"type":"point","filled":true,"color":"black","size":40,"opacity":1},"encoding":{"x":{"field":"g","type":"nominal"},"xOffset":{"field":"r","type":"quantitative","scale":{"domain":[0,1],"range":[1.7,12.7]}},"y":{"field":"v","type":"quantitative"}}},
{"data":{"name":"br"},"transform":[{"filter":"datum.p==13"}],"mark":{"type":"rule","color":"#333333"},"encoding":{"x":{"field":"a","type":"nominal"},"x2":{"field":"b"},"y":{"field":"y","type":"quantitative"}}},
{"data":{"name":"br"},"transform":[{"filter":"datum.p==13"}],"mark":{"type":"rule","color":"#333333"},"encoding":{"x":{"field":"a","type":"nominal"},"y":{"field":"y","type":"quantitative"},"y2":{"field":"y0"}}},
{"data":{"name":"br"},"transform":[{"filter":"datum.p==13"}],"mark":{"type":"rule","color":"#333333"},"encoding":{"x":{"field":"b","type":"nominal"},"y":{"field":"y","type":"quantitative"},"y2":{"field":"y0"}}}
]},
{"title":{"text":"miR-365b-3p","subtitle":["FDR(PE)=6.91x10⁻³","FC=1.93"]},"width":104,"height":85,"layer":[
{"transform":[{"filter":"datum.p==14"}],"mark":{"type":"boxplot","extent":1.5,"size":11,"outliers":false,"color":"white","box":{"stroke":"#999999","strokeWidth":1},"median":{"color":"#444444"},"rule":{"color":"#999999"}},"encoding":{"x":{"field":"g","type":"nominal","scale":{"domain":["I Trimester","II Trimester","NORM","PE","GD","SGA","LGA"],"paddingInner":0,"paddingOuter":0.1},"axis":{"title":null}},"y":{"field":"v","type":"quantitative","title":"CPM","scale":{"domain":[-12,308],"nice":false,"zero":false},"axis":{"values":[0,50,100,150,200,250,300],"tickCount":20,"format":"d","labelOverlap":false}}}},
{"transform":[{"filter":"datum.p==14"},{"window":[{"op":"row_number","as":"i"}],"groupby":["g"]},{"window":[{"op":"percent_rank","as":"r"}],"sort":[{"field":"i"}],"groupby":["g"]}],"mark":{"type":"point","filled":true,"color":"black","size":40,"opacity":1},"encoding":{"x":{"field":"g","type":"nominal"},"xOffset":{"field":"r","type":"quantitative","scale":{"domain":[0,1],"range":[1.7,12.7]}},"y":{"field":"v","type":"quantitative"}}},
{"data":{"name":"br"},"transform":[{"filter":"datum.p==14"}],"mark":{"type":"rule","color":"#333333"},"encoding":{"x":{"field":"a","type":"nominal"},"x2":{"field":"b"},"y":{"field":"y","type":"quantitative"}}},
{"data":{"name":"br"},"transform":[{"filter":"datum.p==14"}],"mark":{"type":"rule","color":"#333333"},"encoding":{"x":{"field":"a","type":"nominal"},"y":{"field":"y","type":"quantitative"},"y2":{"field":"y0"}}},
{"data":{"name":"br"},"transform":[{"filter":"datum.p==14"}],"mark":{"type":"rule","color":"#333333"},"encoding":{"x":{"field":"b","type":"nominal"},"y":{"field":"y","type":"quantitative"},"y2":{"field":"y0"}}}
]},
{"title":{"text":"miR-520a-3p","subtitle":["FDR(PE)=9.58x10⁻⁵","FC=1.82"]},"width":104,"height":85,"layer":[
{"transform":[{"filter":"datum.p==15"}],"mark":{"type":"boxplot","extent":1.5,"size":11,"outliers":false,"color":"white","box":{"stroke":"#999999","strokeWidth":1},"median":{"color":"#444444"},"rule":{"color":"#999999"}},"encoding":{"x":{"field":"g","type":"nominal","scale":{"domain":["I Trimester","II Trimester","NORM","PE","GD","SGA","LGA"],"paddingInner":0,"paddingOuter":0.1},"axis":{"title":null}},"y":{"field":"v","type":"quantitative","title":"CPM","scale":{"domain":[-230,6120],"nice":false,"zero":false},"axis":{"values":[1000,2000,3000,4000,5000,6000],"tickCount":20,"format":"d","labelOverlap":false}}}},
{"transform":[{"filter":"datum.p==15"},{"window":[{"op":"row_number","as":"i"}],"groupby":["g"]},{"window":[{"op":"percent_rank","as":"r"}],"sort":[{"field":"i"}],"groupby":["g"]}],"mark":{"type":"point","filled":true,"color":"black","size":40,"opacity":1},"encoding":{"x":{"field":"g","type":"nominal"},"xOffset":{"field":"r","type":"quantitative","scale":{"domain":[0,1],"range":[1.7,12.7]}},"y":{"field":"v","type":"quantitative"}}},
{"data":{"name":"br"},"transform":[{"filter":"datum.p==15"}],"mark":{"type":"rule","color":"#333333"},"encoding":{"x":{"field":"a","type":"nominal"},"x2":{"field":"b"},"y":{"field":"y","type":"quantitative"}}},
{"data":{"name":"br"},"transform":[{"filter":"datum.p==15"}],"mark":{"type":"rule","color":"#333333"},"encoding":{"x":{"field":"a","type":"nominal"},"y":{"field":"y","type":"quantitative"},"y2":{"field":"y0"}}},
{"data":{"name":"br"},"transform":[{"filter":"datum.p==15"}],"mark":{"type":"rule","color":"#333333"},"encoding":{"x":{"field":"b","type":"nominal"},"y":{"field":"y","type":"quantitative"},"y2":{"field":"y0"}}}
]}
]}
],
"spacing":6,
"config":{
"font":"Liberation Sans",
"view":{"stroke":null},
"concat":{"spacing":6},
"axis":{"grid":false,"domainColor":"#000000","tickColor":"#000000","labelColor":"#333333","titleColor":"#000000","tickSize":3,"labelFontSize":10,"labelPadding":1,"domainWidth":1,"tickWidth":1,"labelOverlap":false},
"axisX":{"labelAngle":-90,"labelFontSize":10.3},
"axisY":{"titleFontSize":13,"titleFontWeight":"normal","titlePadding":3,"labelFlush":false,"labelOverlap":false},
"title":{"anchor":"start","frame":"group","fontSize":9.5,"fontWeight":"bold","color":"#000000","subtitleFontSize":8.6,"subtitleColor":"#222222","subtitlePadding":1,"subtitleLineHeight":10,"offset":3}
}
}
